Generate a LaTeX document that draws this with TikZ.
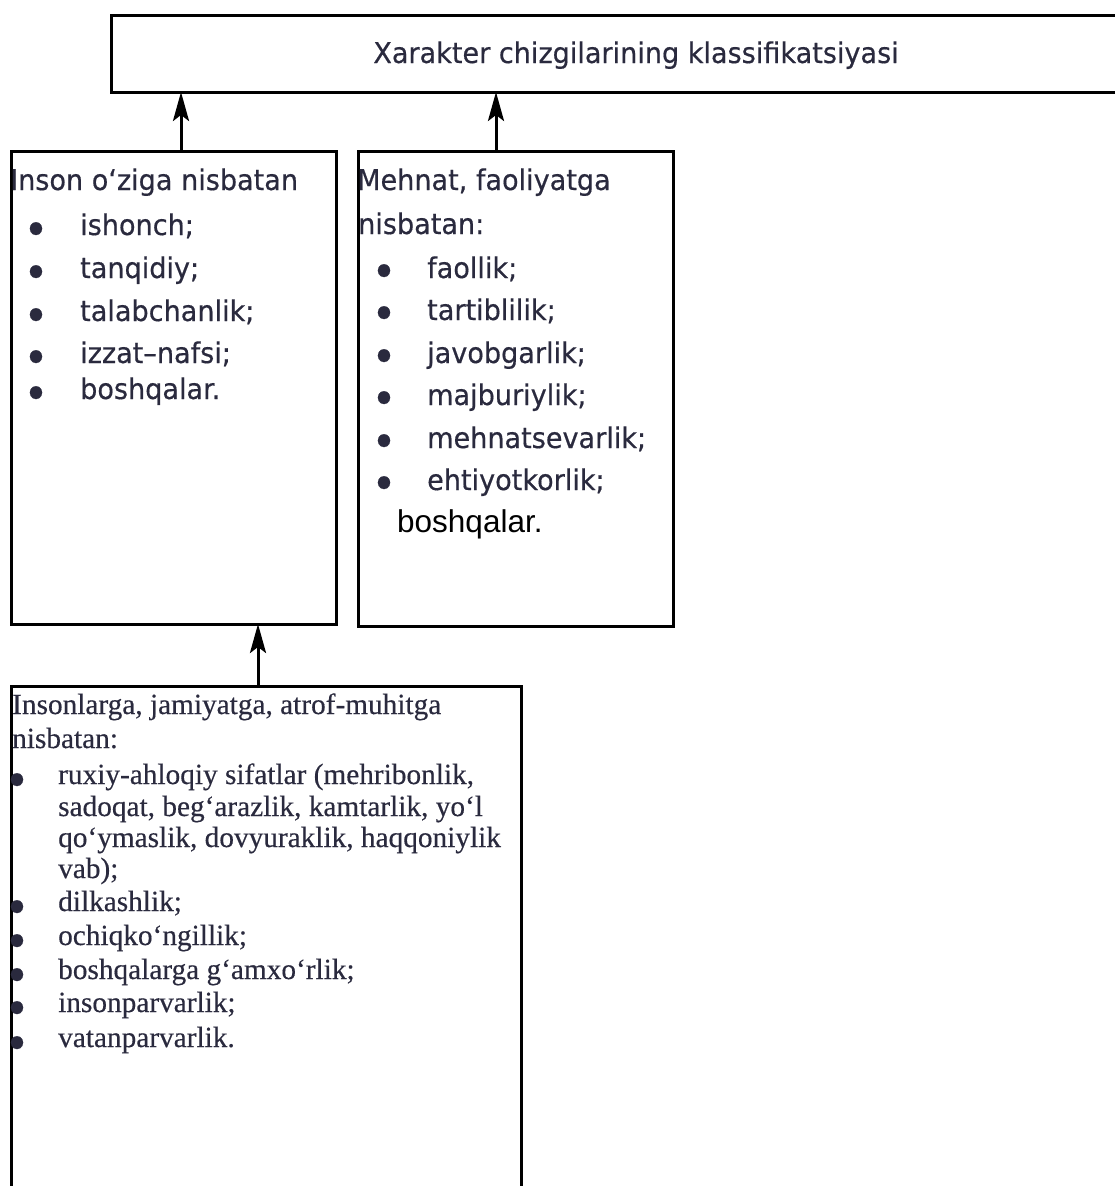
\documentclass[tikz,border=0pt]{standalone}
\usepackage{fontspec}
\usetikzlibrary{arrows.meta}
\newfontfamily\dvfont{DejaVu Sans}[FakeStretch=0.95,FakeBold=0.5]
\newfontfamily\tmfont{Liberation Serif}[FakeBold=0.4]
\newfontfamily\arfont{Liberation Sans}
\definecolor{ink}{HTML}{2A2A3E}

\tikzset{
  kbox/.style={draw=black, line width=3pt, rectangle, outer sep=0pt, inner sep=0pt, anchor=north west},
  arr/.style={line width=3pt, -{Stealth[length=29pt,width=16pt,inset=6pt]}},
  dv/.style={inner sep=0pt, anchor=base west, text=ink, font=\dvfont\fontsize{28.5}{32}\selectfont},
  tm/.style={inner sep=0pt, anchor=base west, text=ink, font=\tmfont\fontsize{29.3}{34}\selectfont},
  blt/.style={inner sep=0pt, anchor=base, text=ink, font=\dvfont\fontsize{17}{20}\selectfont},
}

\begin{document}
\begin{tikzpicture}[x=1pt,y=-1pt]
\clip (0,0) rectangle (1115,1186);

% boxes
\node[kbox, minimum width=1050pt, minimum height=77pt] (top) at (111,15) {};
\node[kbox, minimum width=325pt, minimum height=473pt] (self) at (11,151) {};
\node[kbox, minimum width=315pt, minimum height=475pt] (work) at (358,151) {};
\node[kbox, minimum width=510pt, minimum height=540pt] (soc) at (11,686) {};
\node[dv, anchor=base] (top-t) at (636,63) {Xarakter chizgilarining klassifikatsiyasi};

% arrows
\coordinate (a1) at ([xshift=7.5pt]self.north);
\coordinate (a2) at ([xshift=-19.5pt]work.north);
\coordinate (a3) at ([xshift=-8pt]soc.north);
\draw[arr] (a1) -- (a1 |- top.south);
\draw[arr] (a2) -- (a2 |- top.south);
\draw[arr] (a3) -- (a3 |- self.south);

% inson o'ziga
\node[dv] (self-t) at (10,190) {Inson o‘ziga nisbatan};
\foreach \y/\t [count=\i] in {235/ishonch;, 278/tanqidiy;, 321/talabchanlik;, 363/izzat–nafsi;, 399/boshqalar.} {
  \node[blt] (self-b\i) at (36,\y-2) {●};
  \node[dv] (self-\i) at (80,\y) {\t};
}

% mehnat
\node[dv] (work-t) at (357,190) {Mehnat, faoliyatga};
\node[dv] (work-t2) at (358,234) {nisbatan:};
\foreach \y/\t [count=\i] in {278/faollik;, 320/tartiblilik;, 363/javobgarlik;, 405/majburiylik;, 448/mehnatsevarlik;, 490/ehtiyotkorlik;} {
  \node[blt] (work-b\i) at (384,\y-3) {●};
  \node[dv] (work-\i) at (427,\y) {\t};
}
\node[inner sep=0pt, anchor=base west, font=\arfont\fontsize{31.5}{34}\selectfont] (work-e) at (397,532) {boshqalar.};

% insonlarga
\node[tm] (soc-t) at (12,714) {Insonlarga, jamiyatga, atrof-muhitga};
\node[tm] (soc-t2) at (12,748) {nisbatan:};
\foreach \y/\t [count=\i] in {784/{ruxiy-ahloqiy sifatlar (mehribonlik,}, 816/{sadoqat, beg‘arazlik, kamtarlik, yo‘l}, 847/{qo‘ymaslik, dovyuraklik, haqqoniylik}, 878/{vab);}} {
  \node[tm] (soc-r\i) at (58,\y) {\t};
}
\node[blt] (soc-b0) at (17,784) {●};
\foreach \y/\t [count=\i] in {911/dilkashlik;, 945/ochiqko‘ngillik;, 979/boshqalarga g‘amxo‘rlik;, 1012/insonparvarlik;, 1047/vatanparvarlik.} {
  \node[blt] (soc-b\i) at (17,\y) {●};
  \node[tm] (soc-\i) at (58,\y) {\t};
}
\end{tikzpicture}
\end{document}
